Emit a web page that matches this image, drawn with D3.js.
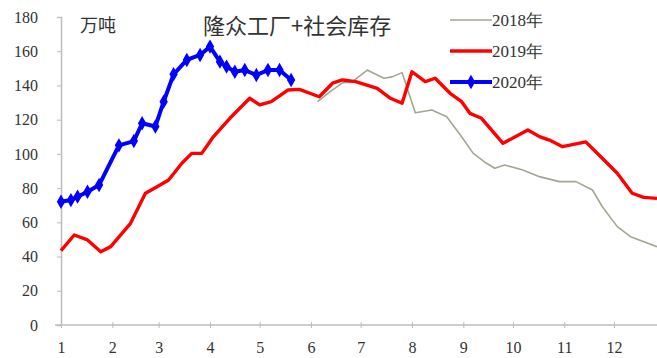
<!DOCTYPE html>
<html>
<head>
<meta charset="utf-8">
<script src="https://cdn.jsdelivr.net/npm/d3@7"></script>
<style>
  body { margin: 0; background: #fff; }
  svg { display: block; }
</style>
</head>
<body>
<div id="chart"></div>
<script>
// DATA (month-day, value in 万吨)
const months = ["1", "2", "3", "4", "5", "6", "7", "8", "9", "10", "11", "12"]
const yTicks = [0, 20, 40, 60, 80, 100, 120, 140, 160, 180]

const dates2018 = ["06-05","06-12","06-20","06-26","07-05","07-15","07-20","07-26","08-03","08-13","08-22","08-31",
  "09-07","09-15","09-20","09-26","10-07","10-17","10-29","11-08","11-18","11-24","12-03","12-11","12-27"]
const values2018 = [130.5,136,141.5,142.2,149,144.2,145,147.5,124,125.7,121.7,110,
  100.3,94.5,91.6,93.5,90.6,86.7,83.8,83.8,78.9,69.1,57.5,51.6,45.8]

const dates2019 = ["01-01","01-09","01-17","01-25","01-31","02-12","02-21","02-28","03-07","03-15","03-21","03-27",
  "04-03","04-13","04-25","05-01","05-08","05-18","05-25","06-06","06-14","06-20","06-28","07-11","07-19","07-26",
  "08-01","08-09","08-15","08-24","08-31","09-05","09-12","09-25","10-10","10-17","10-23","10-31","11-14","11-25",
  "12-03","12-12","12-19","12-27"]
const values2019 = [43.5,52.6,49.7,42.8,45.8,59.4,77,80.8,84.7,94.5,100.3,100.3,
  110,120.8,132.5,128.6,130.5,137.3,137.7,133.4,141.3,143.2,142.2,138.3,132.5,129.6,
  148,142.2,144.2,135.4,130.5,123.7,120.8,106.2,114,110.1,108.1,104.2,107,96.4,
  88.7,77,74.6,74]

const dates2020 = ["01-01","01-07","01-11","01-17","01-24","02-05","02-14","02-19","02-27","03-04","03-10","03-18",
  "03-26","04-01","04-07","04-11","04-16","04-22","04-29","05-06","05-13","05-20"]
const values2020 = [72,73,75,77.9,81.8,105,107.5,117.9,116,130.5,146.5,154.9,
  157.8,162.7,153.9,151,148,149,146.1,149,149,143.2]

const seriesNames = ["2018年", "2019年", "2020年"]
const seriesColors = ["#a3a692", "#ff0000", "#0000ff"]

// all years are laid on one common calendar
const parseMD = d3.timeParse("%Y-%m-%d")
const toDate = md => parseMD("2019-" + md)

const series = [
  { name: seriesNames[0], color: seriesColors[0], width: 1.6, marker: false,
    points: dates2018.map((d, i) => ({ date: toDate(d), value: values2018[i] })) },
  { name: seriesNames[1], color: seriesColors[1], width: 3.4, marker: false,
    points: dates2019.map((d, i) => ({ date: toDate(d), value: values2019[i] })) },
  { name: seriesNames[2], color: seriesColors[2], width: 4, marker: true,
    points: dates2020.map((d, i) => ({ date: toDate(d), value: values2020[i] })) }
]

const W = 657, H = 358
const LEFT = 61, RIGHT = 657, TOP = 17, BOTTOM = 325

const svg = d3.select("#chart").append("svg")
  .attr("width", W)
  .attr("height", H)

const x = d3.scaleTime()
  .domain([toDate("01-01"), toDate("12-27")])
  .range([LEFT, RIGHT])

const y = d3.scaleLinear()
  .domain([0, 180])
  .range([BOTTOM, TOP])

const numFont = "'Liberation Serif', 'Times New Roman', serif"
const cjkFont = "'Noto Sans CJK SC', sans-serif"
const axisColor = "#bdbdbd"

// y axis
const yAxis = svg.append("g")
  .attr("transform", `translate(${LEFT},0)`)
  .call(d3.axisLeft(y).tickValues(yTicks).tickSize(4).tickPadding(19))
yAxis.select(".domain").attr("stroke", axisColor).attr("stroke-width", 1.5)
yAxis.selectAll(".tick line").attr("stroke", axisColor)
yAxis.selectAll(".tick text")
  .attr("font-family", numFont)
  .attr("font-size", 16)
  .attr("fill", "#333")

// x axis (month starts)
const monthStarts = months.map((m, i) => new Date(2019, i, 1))
const xAxis = svg.append("g")
  .attr("transform", `translate(0,${BOTTOM})`)
  .call(d3.axisBottom(x).tickValues(monthStarts).tickSizeOuter(0).tickSize(3)
    .tickFormat((d, i) => months[i]).tickPadding(14))
xAxis.select(".domain").attr("stroke", axisColor).attr("stroke-width", 1.5)
  .attr("d", `M${LEFT - 6},0H${RIGHT}`)
xAxis.selectAll(".tick line").attr("stroke", axisColor).attr("y1", -3)
xAxis.selectAll(".tick text")
  .attr("font-family", numFont)
  .attr("font-size", 16)
  .attr("fill", "#333")

// lines
const line = d3.line()
  .x(d => x(d.date))
  .y(d => y(d.value))

series.forEach(s => {
  svg.append("path")
    .datum(s.points)
    .attr("fill", "none")
    .attr("stroke", s.color)
    .attr("stroke-width", s.width)
    .attr("stroke-linejoin", "round")
    .attr("d", line)

  if (s.marker) {
    svg.append("g").selectAll("path")
      .data(s.points)
      .join("path")
      .attr("transform", d => `translate(${x(d.date)},${y(d.value)})`)
      .attr("d", d3.symbol(d3.symbolDiamond, 60))
      .attr("fill", s.color)
  }
})

// titles
svg.append("text")
  .attr("x", 80).attr("y", 32)
  .attr("font-family", cjkFont)
  .attr("font-size", 18)
  .attr("fill", "#333")
  .text("万吨")

svg.append("text")
  .attr("x", 203).attr("y", 34)
  .attr("font-family", cjkFont)
  .attr("font-size", 22)
  .attr("fill", "#333")
  .text("隆众工厂+社会库存")

// legend
const legend = svg.append("g")
series.forEach((s, i) => {
  const ly = 20 + i * 31
  legend.append("line")
    .attr("x1", 450).attr("x2", 492)
    .attr("y1", ly).attr("y2", ly)
    .attr("stroke", s.color)
    .attr("stroke-width", s.width)
  if (s.marker) {
    legend.append("path")
      .attr("transform", `translate(471,${ly})`)
      .attr("d", d3.symbol(d3.symbolDiamond, 60))
      .attr("fill", s.color)
  }
  legend.append("text")
    .attr("x", 492).attr("y", ly + 6)
    .attr("font-family", numFont)
    .attr("font-size", 17)
    .attr("fill", "#333")
    .text(s.name)
})
</script>
</body>
</html>
